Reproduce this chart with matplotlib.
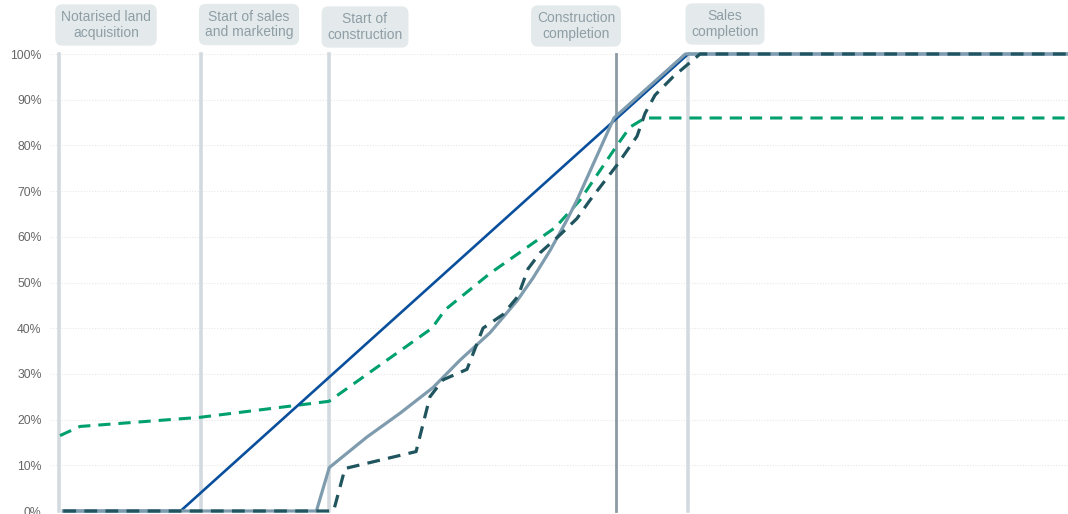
import matplotlib
matplotlib.use('Agg')
import matplotlib.pyplot as plt
from matplotlib.ticker import FuncFormatter

plt.rcParams['font.family'] = ['Liberation Sans', 'DejaVu Sans']

# time axis in months from notarised land acquisition
milestone_names = ['Notarised land\nacquisition', 'Start of sales\nand marketing',
                   'Start of\nconstruction', 'Construction\ncompletion', 'Sales\ncompletion']
milestone_x = [0, 9.9, 18.9, 38.95, 44.0]

# sales, straight line plan
sales_x = [0.3, 8.5, 44.0, 70.6]
sales_y = [0, 0, 100, 100]

# construction progress, solid
build_x = [0.3, 18.0, 18.9, 21.54, 23.85, 26.15, 28.04, 30.14, 32.03, 33.15, 34.34,
           35.52, 36.22, 38.81, 43.8, 70.6]
build_y = [0, 0, 9.5, 16.2, 21.4, 27, 33, 39, 46, 51, 57,
           63.7, 68, 86, 100, 100]

# construction costs paid, dashed
paid_x = [0.3, 18.6, 19.2, 20.0, 24.97, 25.94, 26.85, 28.53, 29.65, 31.05, 32.1, 32.8,
          33.64, 35.03, 36.22, 37.13, 39.02, 40.42, 40.98, 41.68, 42.94, 44.83, 70.6]
paid_y = [0, 0, 0, 9.3, 13, 25, 28.7, 31, 40, 43, 47, 53,
          56.5, 60.4, 64, 68, 75.7, 82, 87, 91, 95, 100, 100]

# customer cash collected, dashed
cash_x = [0.07, 1.47, 9.86, 18.88, 26.08, 26.99, 30.14, 34.69, 36.43, 39.02, 39.93, 40.98, 70.6]
cash_y = [16.5, 18.5, 20.5, 24, 40, 44, 52, 62, 68, 80, 84, 86, 86]

yticks = list(range(0, 101, 10))

fig = plt.figure(figsize=(10.68, 5.14), dpi=100)
ax = fig.add_axes([50 / 1068, 3 / 514, 1 - 50 / 1068, 457 / 514])

for i, mx in enumerate(milestone_x):
    if i == 3:
        ax.plot([mx, mx], [0, 100], color='#8b9aa3', lw=2.0, clip_on=False, zorder=1)
    else:
        ax.plot([mx, mx], [0, 100], color='#d3dadf', lw=2.6, clip_on=False, zorder=1)

ax.plot(cash_x, cash_y, color='#00a06e', lw=2.2, dashes=(4, 2.6), clip_on=False, zorder=2)
ax.plot(sales_x, sales_y, color='#0a4f9c', lw=1.9, clip_on=False, zorder=3)
ax.plot(build_x, build_y, color='#7f9bae', lw=2.3, clip_on=False, zorder=4)
ax.plot(paid_x, paid_y, color='#20555f', lw=2.3, dashes=(4, 2.6), clip_on=False, zorder=5)

ax.set_xlim(-0.63, 70.56)
ax.set_ylim(0, 100)
ax.set_yticks(yticks)
ax.yaxis.set_major_formatter(FuncFormatter(lambda v, p: '%d%%' % v))
ax.tick_params(axis='y', length=0, pad=6, labelsize=8.8, labelcolor='#666666')
ax.set_xticks([])
ax.grid(axis='y', color='#e8e8e8', lw=0.8, ls=(0, (1, 1.5)))
ax.set_axisbelow(True)
for s in ax.spines.values():
    s.set_visible(False)

# milestone labels above the plot
box_px = [(106, 25), (249, 24.5), (365, 27), (576, 26), (725, 24)]
for name, (bx, by) in zip(milestone_names, box_px):
    fig.text(bx / 1068, 1 - by / 514, name, ha='center', va='center', fontsize=10,
             color='#8e9ea6', linespacing=1.15,
             bbox=dict(boxstyle='round,pad=0.42,rounding_size=0.5', fc='#e4eaeb', ec='none'))

fig.savefig('out.png', dpi=100)
